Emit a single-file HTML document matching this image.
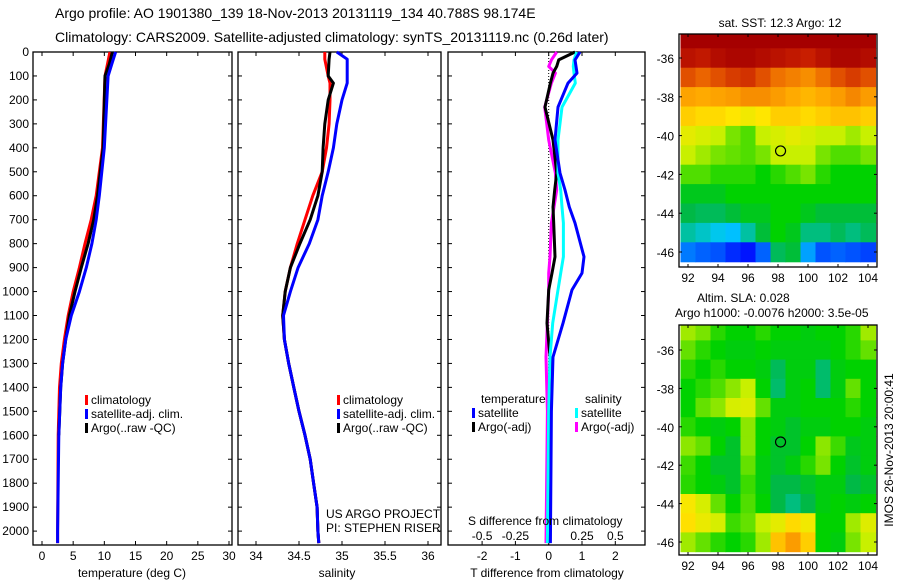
<!DOCTYPE html>
<html><head><meta charset="utf-8">
<style>
html,body{margin:0;padding:0;background:#fff;}
svg{display:block;font-family:"Liberation Sans",sans-serif;}
text{fill:#000;}
</style></head>
<body>
<svg id="fig" width="900" height="580" viewBox="0 0 900 580">
<text x="55" y="18" font-size="14">Argo profile: AO 1901380_139 18-Nov-2013 20131119_134 40.788S 98.174E</text>
<text x="55" y="42" font-size="14">Climatology: CARS2009. Satellite-adjusted climatology: synTS_20131119.nc (0.26d later)</text>
<g id="g1"></g>
<g id="g2"></g>
<g id="g3"></g>
<g id="g4"></g>
<g id="g5"></g>
<text transform="translate(893,450) rotate(-90)" font-size="12" text-anchor="middle">IMOS 26-Nov-2013 20:00:41</text>
</svg>
<script>
// ---------- data ----------
const depthTicks=[0,100,200,300,400,500,600,700,800,900,1000,1100,1200,1300,1400,1500,1600,1700,1800,1900,2000];
const tempTicks=[0,5,10,15,20,25,30];
const salTicks=[34,34.5,35,35.5,36];
const tdiffTicks=[-2,-1,0,1,2];
const sdiffTicks=[-0.5,-0.25,0,0.25,0.5];
const sdiffLabels=["-0.5","-0.25","0","0.25","0.5"];
const lonTicks=[92,94,96,98,100,102,104];
const latTicks=[-36,-38,-40,-42,-44,-46];

const depthT=[0,50,100,400,600,700,800,900,1000,1100,1200,1300,1400,1600,2000,2050];
const tempClim=[10.9,10.5,10.1,9.7,8.7,7.9,6.9,6.0,5.0,4.2,3.6,3.1,2.8,2.6,2.5,2.5];
const tempSat=[11.8,11.2,10.6,10.0,9.2,8.7,8.0,7.1,6.0,4.7,3.8,3.3,3.0,2.7,2.5,2.5];
const tempArgo=[11.3,10.8,10.1,9.8,8.9,8.3,7.4,6.3,5.3,4.4,3.8,3.3,3.0,2.7,2.5,2.5];

const depthS=[0,30,100,130,200,300,400,500,600,700,800,900,1000,1100,1200,1300,1400,1500,1600,1700,1800,1900,2000,2050];
const salClim=[34.80,34.80,34.84,34.86,34.86,34.85,34.82,34.77,34.66,34.57,34.48,34.40,34.34,34.31,34.33,34.38,34.44,34.50,34.57,34.63,34.67,34.71,34.72,34.73];
const salSat=[34.94,35.06,35.06,35.06,35.00,34.94,34.90,34.84,34.77,34.72,34.62,34.49,34.40,34.32,34.33,34.38,34.44,34.50,34.57,34.63,34.67,34.71,34.72,34.73];
const salArgo=[34.86,34.85,34.84,34.90,34.84,34.80,34.78,34.77,34.72,34.63,34.51,34.40,34.34,34.31,34.33,34.38,34.44,34.50,34.57,34.63,34.67,34.71,34.72,34.73];

const depthD=[0,33,60,88,130,230,367,505,576,647,714,855,923,993,1132,1273,1500,2050];
const dTsat=[0.94,0.79,0.82,0.85,0.58,0.28,0.19,0.34,0.49,0.62,0.79,1.06,1.0,0.7,0.43,0.13,0.08,0.05];
const dTargo=[0.79,0.3,0.24,0.13,0.05,-0.11,0.13,0.24,0.18,0.13,0.15,0.19,0.1,0.0,-0.05,0.04,0.02,0.0];
const dSsat=[0.21,0.19,0.185,0.19,0.2,0.1,0.07,0.07,0.09,0.1,0.11,0.11,0.09,0.07,0.03,0.01,0.0,-0.01];
const dSargo=[0.06,0.02,0.0,0.05,0.02,-0.03,0.0,0.05,0.06,0.04,0.02,0.01,0.0,0.0,-0.01,-0.02,-0.01,-0.02];

// SST map: rows lat -35..-46, cols lon 92..104 (colormap fraction 0..1)
const sstGrid=[
[1,1,1,1,1,1,1,1,1,1,1,1,1],
[.97,.96,.98,.99,.99,.98,.97,.96,.95,.97,.99,.99,.98],
[.9,.88,.9,.92,.93,.9,.86,.84,.82,.86,.9,.92,.9],
[.79,.78,.79,.8,.82,.82,.8,.78,.76,.78,.8,.83,.8],
[.72,.7,.7,.68,.66,.68,.72,.72,.7,.72,.74,.74,.72],
[.64,.62,.6,.56,.54,.6,.62,.64,.62,.6,.6,.58,.6],
[.6,.58,.56,.55,.54,.56,.6,.6,.6,.56,.54,.54,.56],
[.54,.54,.52,.52,.52,.5,.52,.54,.56,.52,.5,.5,.5],
[.48,.48,.48,.5,.5,.5,.5,.5,.5,.5,.5,.5,.5],
[.45,.44,.44,.46,.48,.48,.5,.5,.48,.46,.46,.46,.46],
[.4,.38,.36,.34,.4,.46,.5,.48,.42,.42,.44,.42,.44],
[.25,.22,.2,.15,.12,.22,.44,.46,.3,.2,.22,.2,.18]
];
// SLA map: rows lat -35..-46, cols lon 92..104
const slaGrid=[
[.58,.56,.52,.5,.5,.52,.5,.5,.49,.5,.5,.52,.58],
[.55,.52,.5,.49,.49,.5,.49,.49,.49,.49,.5,.52,.55],
[.52,.5,.52,.5,.5,.49,.44,.49,.49,.43,.49,.5,.5],
[.5,.52,.54,.57,.6,.5,.43,.49,.5,.43,.49,.55,.5],
[.5,.55,.57,.62,.63,.55,.49,.49,.5,.5,.5,.52,.5],
[.52,.5,.49,.5,.57,.5,.49,.47,.49,.49,.5,.5,.49],
[.57,.55,.5,.47,.57,.5,.47,.47,.5,.57,.53,.48,.49],
[.53,.5,.47,.47,.55,.49,.47,.49,.52,.56,.5,.47,.49],
[.52,.5,.49,.47,.53,.49,.45,.45,.47,.49,.49,.45,.47],
[.67,.62,.55,.5,.54,.5,.45,.42,.45,.49,.5,.49,.5],
[.69,.65,.62,.53,.55,.6,.64,.7,.66,.5,.5,.58,.63],
[.58,.55,.52,.5,.52,.58,.74,.8,.72,.5,.49,.56,.6]
];

// ---------- helpers ----------
const NS="http://www.w3.org/2000/svg";
function mk(p,tag,at){const e=document.createElementNS(NS,tag);for(const k in at)e.setAttribute(k,at[k]);p.appendChild(e);return e;}
function txt(p,x,y,s,anchor,size){const t=mk(p,'text',{x:x,y:y,'font-size':size||12,'text-anchor':anchor||'start'});t.textContent=s;return t;}
const Y0=52,Y1=545,DMAX=2058;
const yD=d=>Y0+(d/DMAX)*(Y1-Y0);
function lin(a,b,pa,pb){return v=>pa+(v-a)/(b-a)*(pb-pa);}

function frame(g,x0,x1){
  const r=mk(g,'rect',{x:x0,y:Y0,width:x1-x0,height:Y1-Y0,fill:'none',stroke:'#000','stroke-width':1.3});
  
}
function xticks(g,ticks,xf,labels,ly){
  ticks.forEach((t,i)=>{const x=xf(t);
    mk(g,'line',{x1:x,x2:x,y1:Y0,y2:Y0+4,stroke:'#000'});
    mk(g,'line',{x1:x,x2:x,y1:Y1,y2:Y1-4,stroke:'#000'});
    if(labels){const e=txt(g,x,ly,labels[i],'middle');}
  });
}
function yticks(g,x0,x1){depthTicks.forEach(d=>{const y=yD(d);
  mk(g,'line',{x1:x0,x2:x0+4,y1:y,y2:y,stroke:'#000'});
  mk(g,'line',{x1:x1,x2:x1-4,y1:y,y2:y,stroke:'#000'});});}
function line(g,xs,ds,xf,col,w,name){
  const pts=xs.map((v,i)=>xf(v).toFixed(1)+','+yD(ds[i]).toFixed(1)).join(' ');
  const p=mk(g,'polyline',{points:pts,fill:'none',stroke:col,'stroke-width':w||3,'stroke-linejoin':'round'});
  
}
function legend(g,x,y,items){items.forEach((it,i)=>{
  mk(g,'rect',{x:x,y:y+i*14-9,width:3,height:10,fill:it[0]});
  const t=txt(g,x+6,y+i*14,it[1]);});}

// ---------- panel 1 ----------
const g1=document.getElementById('g1');
const xT=lin(0,30,42,229);
frame(g1,33,232);
xticks(g1,tempTicks,xT,tempTicks.map(String),560);
yticks(g1,33,232);
depthTicks.forEach(d=>{const e=txt(g1,29,yD(d)+4,String(d),'end');});
line(g1,tempClim,depthT,xT,'#f00',3,'temp-climatology-line');
line(g1,tempArgo,depthT.slice(0,14),xT,'#000',3,'temp-argo-line');
line(g1,tempSat,depthT,xT,'#00f',3,'temp-satellite-line');
legend(g1,85,404,[['#f00','climatology'],['#00f','satellite-adj. clim.'],['#000','Argo(..raw -QC)']]);
txt(g1,132,577,'temperature (deg C)','middle');

// ---------- panel 2 ----------
const g2=document.getElementById('g2');
const xS=lin(34,36,256,428);
frame(g2,238,441);
xticks(g2,salTicks,xS,salTicks.map(String),560);
yticks(g2,238,441);
line(g2,salClim,depthS,xS,'#f00',3,'sal-climatology-line');
line(g2,salArgo,depthS,xS,'#000',3,'sal-argo-line');
line(g2,salSat,depthS,xS,'#00f',3,'sal-satellite-line');
legend(g2,337,404,[['#f00','climatology'],['#00f','satellite-adj. clim.'],['#000','Argo(..raw -QC)']]);
txt(g2,326,518,'US ARGO PROJECT');txt(g2,326,532,'PI: STEPHEN RISER');
txt(g2,337,577,'salinity','middle');

// ---------- panel 3 ----------
const g3=document.getElementById('g3');
const xDT=lin(0,1,548.7,582);
const xDS=lin(0,0.25,548.7,582);
frame(g3,448,645);
xticks(g3,tdiffTicks,xDT,tdiffTicks.map(String),560);
sdiffTicks.forEach((t,i)=>{const e=txt(g3,xDS(t),540,sdiffLabels[i],'middle');});
yticks(g3,448,645);
mk(g3,'line',{x1:xDT(0),x2:xDT(0),y1:Y0,y2:Y1,stroke:'#000','stroke-dasharray':'1,2'});
line(g3,dSargo,depthD,xDS,'#f0f',3,'s-argo-diff-line');
line(g3,dTargo,depthD,xDT,'#000',3,'t-argo-diff-line');
line(g3,dSsat,depthD,xDS,'#0ff',3,'s-satellite-diff-line');
line(g3,dTsat,depthD,xDT,'#00f',3,'t-satellite-diff-line');
txt(g3,481,403,'temperature');txt(g3,585,403,'salinity');
legend(g3,472,417,[['#00f','satellite'],['#000','Argo(-adj)']]);
legend(g3,575,417,[['#0ff','satellite'],['#f0f','Argo(-adj)']]);
txt(g3,468,525,'S difference from climatology');
txt(g3,547,577,'T difference from climatology','middle');

// ---------- maps ----------
function jet(v){
  const stops=[[0,[0,0,140]],[0.12,[0,20,255]],[0.35,[0,200,255]],[0.45,[0,185,70]],[0.5,[0,210,0]],[0.6,[200,240,0]],[0.68,[255,230,0]],[0.78,[255,170,0]],[0.88,[235,100,0]],[0.95,[200,30,0]],[1,[165,0,0]]];
  v=Math.max(0,Math.min(1,v));
  for(let i=1;i<stops.length;i++){if(v<=stops[i][0]){const a=stops[i-1],b=stops[i],f=(v-a[0])/(b[0]-a[0]);
    return 'rgb('+a[1].map((c,k)=>Math.round(c+f*(b[1][k]-c))).join(',')+')';}}
  return 'rgb(165,0,0)';
}
function map(g,grid,top,bot,lat36y,lat46y){
  const L=679,R=877;
  const xL=lin(92,104,688,868), yL=lin(-36,-46,lat36y,lat46y);
  const clip='c'+top;
  const cp=mk(g,'clipPath',{id:clip});mk(cp,'rect',{x:L,y:top,width:R-L,height:bot-top});
  const cg=mk(g,'g',{'clip-path':'url(#'+clip+')'});
  grid.forEach((row,r)=>row.forEach((v,c)=>{
    const lat=-35-r, lon=92+c;
    const x=xL(lon-0.5), y=yL(lat+0.5);
    const w=xL(lon+0.5)-x+0.6, h=yL(lat-0.5)-y+0.6;
    const e=mk(cg,'rect',{x:x.toFixed(1),y:y.toFixed(1),width:w.toFixed(1),height:h.toFixed(1),fill:jet(v)});
    
  }));
  mk(g,'rect',{x:L,y:top,width:R-L,height:bot-top,fill:'none',stroke:'#000','stroke-width':1.3});
  lonTicks.forEach(t=>{mk(g,'line',{x1:xL(t),x2:xL(t),y1:top,y2:top+3,stroke:'#000'});mk(g,'line',{x1:xL(t),x2:xL(t),y1:bot,y2:bot-3,stroke:'#000'});
    const e=txt(g,xL(t),bot+15,String(t),'middle');});
  latTicks.forEach(t=>{mk(g,'line',{x1:L,x2:L+3,y1:yL(t),y2:yL(t),stroke:'#000'});mk(g,'line',{x1:R,x2:R-3,y1:yL(t),y2:yL(t),stroke:'#000'});
    const e=txt(g,674,yL(t)+5,String(t),'end');});
  const c=mk(g,'circle',{cx:xL(98.17),cy:yL(-40.79),r:5,fill:'none',stroke:'#000','stroke-width':1.2});
  
}
const g4=document.getElementById('g4');
txt(g4,780,27,'sat. SST: 12.3 Argo: 12','middle');
map(g4,sstGrid,34,267,58,252);
const g5=document.getElementById('g5');
txt(g5,697,302,'Altim. SLA: 0.028');
txt(g5,675,317,'Argo h1000: -0.0076 h2000: 3.5e-05');
map(g5,slaGrid,325,555,350,542);
</script>
</body></html>
